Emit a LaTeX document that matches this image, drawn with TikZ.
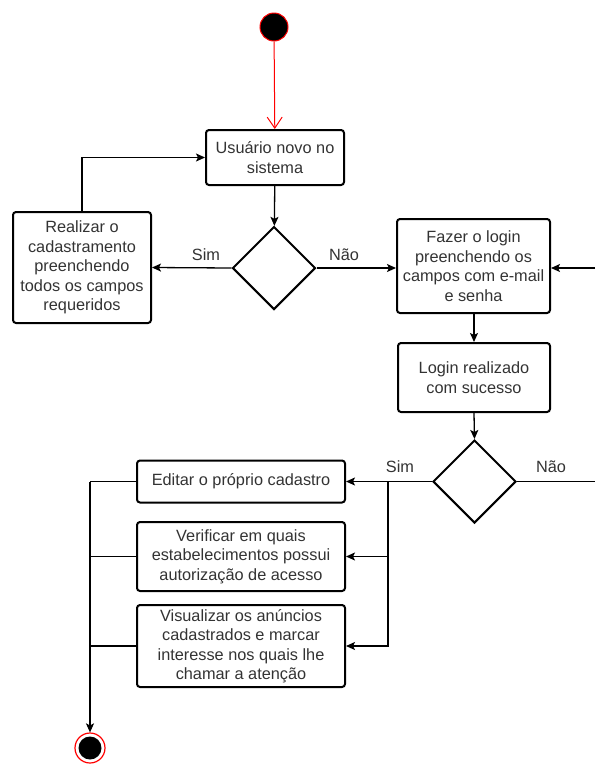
\documentclass[tikz,border=0pt]{standalone}
\usepackage{fontspec}
\setmainfont{Liberation Sans}
\usetikzlibrary{shapes,shapes.geometric,positioning,arrows.meta}

\tikzset{
  actbox/.style={draw,line width=2pt,rounded corners=3pt,align=center,
    inner sep=2pt,text=black!80},
  decis/.style={draw,diamond,line width=2pt,minimum size=83pt,inner sep=0pt,aspect=1},
  flow/.style={line width=1.3pt,-{Stealth[length=9pt,width=8pt,inset=2pt]}},
  lbl/.style={text=black!80}
}

\begin{document}
\begin{tikzpicture}[x=1pt,y=-1pt,font=\fontsize{16.3}{19.5}\selectfont]
    \useasboundingbox (0,0) rectangle (595,769);

    % inicio
    \node[circle,draw=red,fill=black,line width=1pt,minimum size=28pt] (start) at (274,27) {};
    \node[actbox,minimum width=138pt,minimum height=55pt] (usr) at (275,157.5) {Usuário novo no\\sistema};
    \draw[red,line width=1pt,-{Straight Barb[length=11pt,width=15pt]}] (start) -- (usr);

    % primeira decisao
    \node[decis] (d1) at (274,268) {};
    \draw[flow] (usr) -- (d1);

    \node[actbox,minimum width=138pt,minimum height=111pt] (cad) at (82,267.5)
      {Realizar o\\cadastramento\\preenchendo\\todos os campos\\requeridos};
    \draw[flow] (d1.west) -- (cad.east);
    \node[lbl] (sim1) at (206,255) {Sim};
    \draw[flow] (cad.north) |- (usr.west);

    \node[actbox,minimum width=153pt,minimum height=94pt] (login) at (473.5,266)
      {Fazer o login\\preenchendo os\\campos com e-mail\\e senha};
    \draw[flow] (d1.east) -- (d1.east -| login.west);
    \node[lbl] (nao1) at (344,255) {Não};
    \coordinate (volta) at (595,268);
    \draw[flow] (volta) -- (volta -| login.east);

    % login
    \node[actbox,minimum width=152pt,minimum height=69pt] (ok) at (474,377.5)
      {Login realizado\\com sucesso};
    \draw[flow] (login.south -| ok.north) -- (ok.north);

    \node[decis] (d2) at (474.5,481.5) {};
    \draw[flow] (ok.south) -- (d2.north);
    \coordinate (naoout) at (595,481.5);
    \draw[line width=1.3pt] (d2.east) -- (naoout);
    \node[lbl] (nao2) at (551,467) {Não};
    \node[lbl] (sim2) at (400,467) {Sim};

    % opcoes
    \node[actbox,minimum width=208pt,minimum height=42pt] (edit) at (241,481.5)
      {Editar o próprio cadastro};
    \node[actbox,minimum width=208pt,minimum height=69pt] (verif) at (241,556.5)
      {Verificar em quais\\estabelecimentos possui\\autorização de acesso};
    \node[actbox,minimum width=208pt,minimum height=82pt] (visual) at (241,646)
      {Visualizar os anúncios\\cadastrados e marcar\\interesse nos quais lhe\\chamar a atenção};

    \coordinate (br) at (388,481.5);
    \draw[flow] (d2.west) -- (edit.east);
    \draw[flow] (br) |- (verif.east);
    \draw[flow] (br) |- (visual.east);

    % fim
    \node[circle,draw=red,line width=1.2pt,minimum size=30pt] (end) at (90,748) {};
    \fill (end.center) circle (11.5);
    \coordinate (mrg) at (90,481.5);
    \draw[line width=1.3pt] (edit.west) -- (mrg);
    \draw[line width=1.3pt] (verif.west) -| (mrg);
    \draw[line width=1.3pt] (visual.west) -| (mrg);
    \draw[flow] (mrg) -- (end.north);
\end{tikzpicture}
\end{document}
